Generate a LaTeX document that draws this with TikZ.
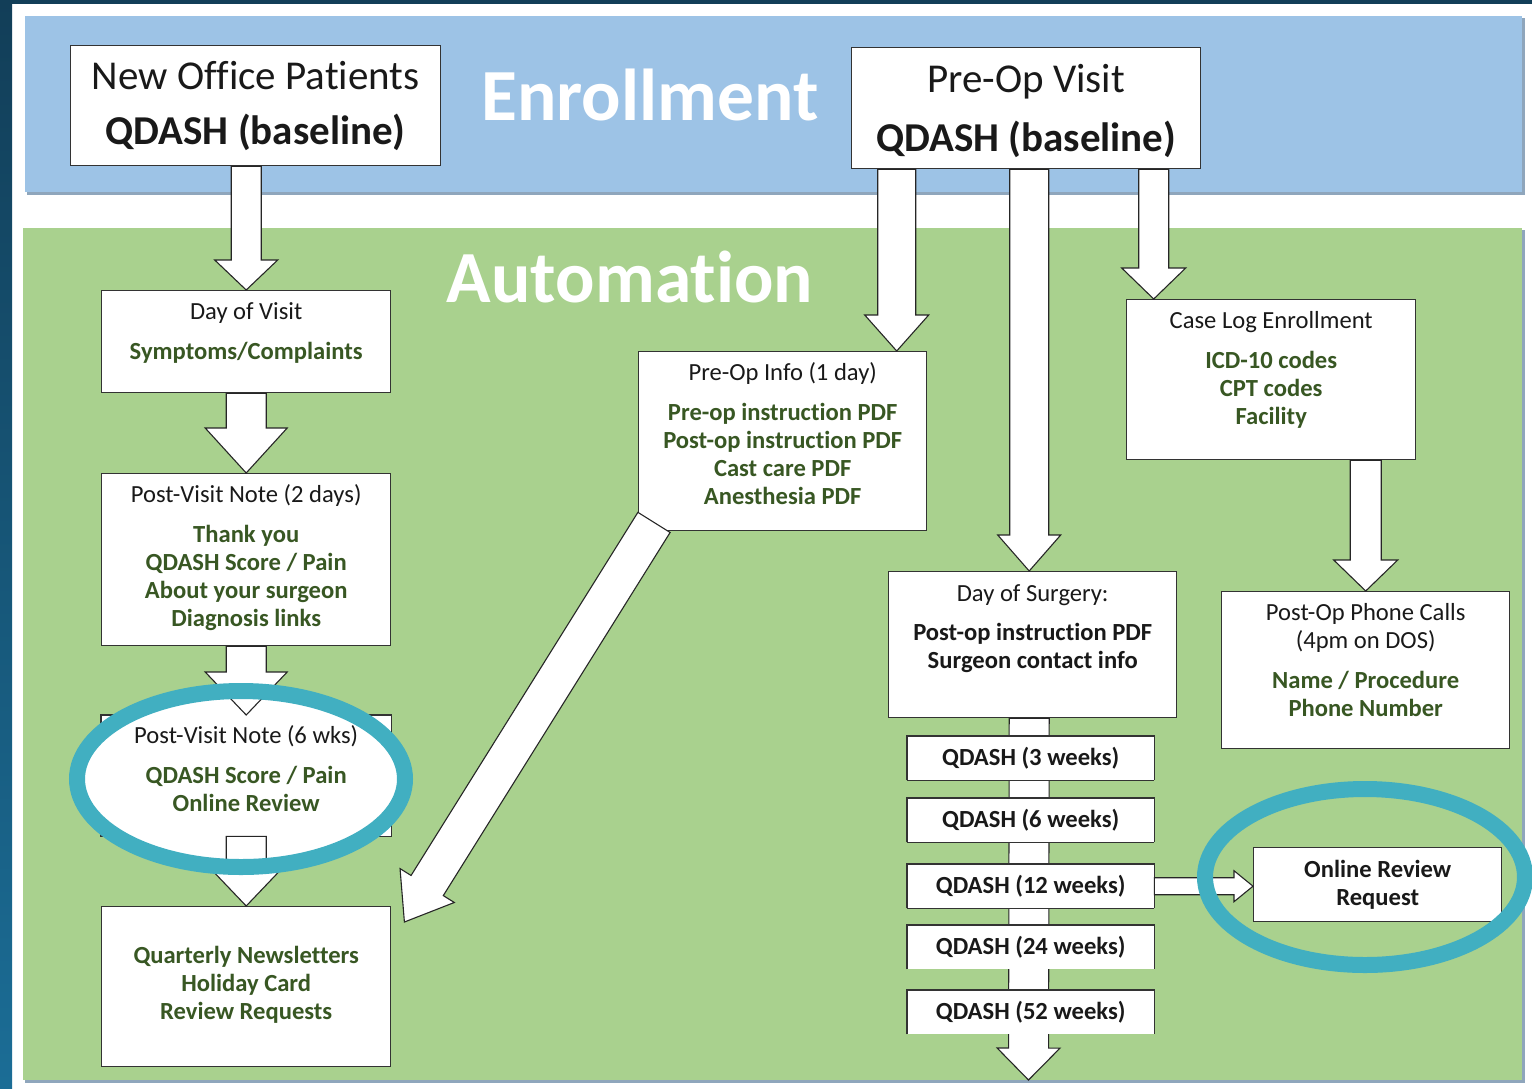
\documentclass[tikz,border=0pt]{standalone}
\usepackage{fontspec}
\setmainfont{Carlito}[Ligatures=NoCommon]
\usepackage{tikz}
\usetikzlibrary{calc}

\definecolor{bandblue}{HTML}{9DC3E6}
\definecolor{bandgreen}{HTML}{A9D18E}
\definecolor{bandshadow}{HTML}{8FA6BC}
\definecolor{txtgreen}{HTML}{385723}
\definecolor{ringteal}{HTML}{41AFC1}
\definecolor{framedark}{HTML}{123E58}
\definecolor{framelight}{HTML}{1B6D96}

\newcommand{\gtxt}[1]{{\color{txtgreen}\bfseries #1}}
% block arrow: start, tip, shaft half width, head half width, head length
\newcommand{\fatarrow}[5]{%
  \coordinate (fa-s) at (#1);
  \coordinate (fa-e) at (#2);
  \coordinate (fa-b) at ($(fa-e)!#5pt!(fa-s)$);
  \draw[arrowline] ($(fa-s)!#3pt!90:(fa-e)$) -- ($(fa-b)!#3pt!90:(fa-e)$)
    -- ($(fa-b)!#4pt!90:(fa-e)$) -- (fa-e) -- ($(fa-b)!#4pt!-90:(fa-e)$)
    -- ($(fa-b)!#3pt!-90:(fa-e)$) -- ($(fa-s)!#3pt!-90:(fa-e)$) -- cycle;
}

\begin{document}
\begin{tikzpicture}[x=1pt, y=-1pt,
    boxline/.style={draw=black!80, line width=1.4pt},
    stepbox/.style={boxline, fill=white, anchor=north west, inner sep=0pt, align=flush center,
      text=black!90, font=\fontsize{24.6}{28}\selectfont},
    topbox/.style={stepbox, font=\fontsize{41}{44}\selectfont},
    weekbox/.style={fill=white, anchor=north west, inner sep=0pt, minimum width=247pt,
      minimum height=44pt, text=black!90, font=\fontsize{24.6}{28}\selectfont\bfseries},
    heading/.style={text=white, anchor=base, inner sep=0pt, font=\fontsize{73.5}{80}\selectfont\bfseries},
    arrowline/.style={draw=black!85, line width=1.1pt, fill=white, line join=miter},
    ring/.style={draw=ringteal, line width=16pt}]
    \useasboundingbox (0,0) rectangle (1532,1088);
    \fill[white] (0,0) rectangle (1532,1088);

    % Frame
    \fill[framedark] (0,0) rectangle (1532,4);
    \shade[top color=framedark, bottom color=framelight] (0,0) rectangle (12,1088);

    % Bands
    \fill[bandshadow] (27,18) rectangle (1525,195);
    \fill[bandblue] (25,16) rectangle (1522,192);
    \fill[bandshadow] (25,230) rectangle (1525,1083);
    \fill[bandgreen] (23,228) rectangle (1522,1080);
    \node[heading] (enroll) at (650,120) {Enrollment};
    \node[heading] (autom) at (630,302) {Automation};

    % Enrollment boxes
    \node[topbox, text width=370pt, text height=44pt, text depth=76pt] (nop) at (70,45)
      {New Office Patients\\[11pt]\textbf{QDASH (baseline)}};
    \node[topbox, text width=349pt, text height=45pt, text depth=76pt] (pov) at (851,47)
      {Pre-Op Visit\\[15pt]\textbf{QDASH (baseline)}};

    % Office patient column
    \node[stepbox, text width=289pt, text height=29pt, text depth=73pt] (dov) at (101,290)
      {Day of Visit\\[12pt]\gtxt{Symptoms/Complaints}};
    \node[stepbox, text width=289pt, text height=29pt, text depth=143pt] (pv2) at (101,473)
      {Post-Visit Note (2 days)\\[12pt]\gtxt{Thank you\\QDASH Score / Pain\\About your surgeon\\Diagnosis links}};
    \fill[white] (241,779) ellipse [x radius=164pt, y radius=88pt];
    \node[stepbox, draw=none, text width=289pt, text height=28pt, text depth=92pt] (pv6) at (101,715)
      {Post-Visit Note (6 wks)\\[12pt]\gtxt{QDASH Score / Pain\\Online Review}};
    \begin{scope}[even odd rule]
      \clip (0,0) rectangle (1532,1088) (241,779) ellipse [x radius=164pt, y radius=88pt];
      \draw[boxline] (pv6.north west) rectangle (pv6.south east);
    \end{scope}
    \node[stepbox, text width=289pt, text height=57pt, text depth=103pt] (nl) at (101,906)
      {\gtxt{Quarterly Newsletters\\Holiday Card\\Review Requests}};

    % Surgery column
    \node[stepbox, text width=288pt, text height=29pt, text depth=150pt] (poi) at (638,351)
      {Pre-Op Info (1 day)\\[12pt]\gtxt{Pre-op instruction PDF\\Post-op instruction PDF\\Cast care PDF\\Anesthesia PDF}};
    \node[stepbox, text width=289pt, text height=29pt, text depth=131pt] (cle) at (1126,299)
      {Case Log Enrollment\\[12pt]\gtxt{ICD-10 codes\\CPT codes\\Facility}};
    \node[stepbox, text width=288pt, text height=30pt, text depth=116pt] (dos) at (888,571)
      {Day of Surgery:\\[11pt]\textbf{Post-op instruction PDF\\Surgeon contact info}};
    \node[stepbox, text width=288pt, text height=29pt, text depth=128pt] (popc) at (1221,591)
      {Post-Op Phone Calls\\(4pm on DOS)\\[12pt]\gtxt{Name / Procedure\\Phone Number}};

    % QDASH follow-up
    \coordinate (qend) at (1028.5,1080);
    \fatarrow{[xshift=-3.5pt]dos.south}{qend}{20}{31.5}{32}
    \foreach \w/\y in {3/736, 6/798, 12/864, 24/925, 52/990}
        \node[weekbox] (q\w) at (907,\y) {QDASH (\w\ weeks)};
    \foreach \w in {3,6,12,24,52}
        \draw[boxline] (q\w.south west) -- (q\w.north west) -- (q\w.north east) -- (q\w.south east);
    \foreach \w in {3,6,12}
        \draw[boxline] (q\w.south west) -- (q\w.south east);
    \node[weekbox, boxline, minimum width=248pt, minimum height=74pt, align=center] (orr) at (1253,847)
      {Online Review\\Request};

    % Arrows
    \coordinate (poitop) at ([xshift=114pt]poi.north);
    \coordinate (dostop) at ([xshift=-3.5pt]dos.north);
    \coordinate (cletop) at ([xshift=-117.5pt]cle.north);
    \fatarrow{dov.north |- nop.south}{dov.north}{15}{31.5}{30}
    \fatarrow{dov.south}{pv2.north}{20}{41}{45}
    \fatarrow{pv2.south}{pv6.north}{20}{41}{43}
    \fatarrow{pv6.south}{nl.north}{20}{41}{43}
    \fatarrow{poitop |- pov.south}{poitop}{19}{32}{36}
    \fatarrow{dostop |- pov.south}{dostop}{19.5}{31.5}{36}
    \fatarrow{cletop |- pov.south}{cletop}{15}{32}{31}
    \fatarrow{popc.north |- cle.south}{popc.north}{15.5}{32}{31}
    \fatarrow{[shift={(16,-9)}]poi.south west}{[shift={(13,16)}]nl.north east}{19}{32}{43}
    \fatarrow{q12.east}{orr.west |- q12.east}{8.5}{15.5}{19}

    % Highlights
    \draw[ring] (241,779) ellipse [x radius=164pt, y radius=88pt];
    \draw[ring] (1365,877) ellipse [x radius=160pt, y radius=88pt];
\end{tikzpicture}
\end{document}
